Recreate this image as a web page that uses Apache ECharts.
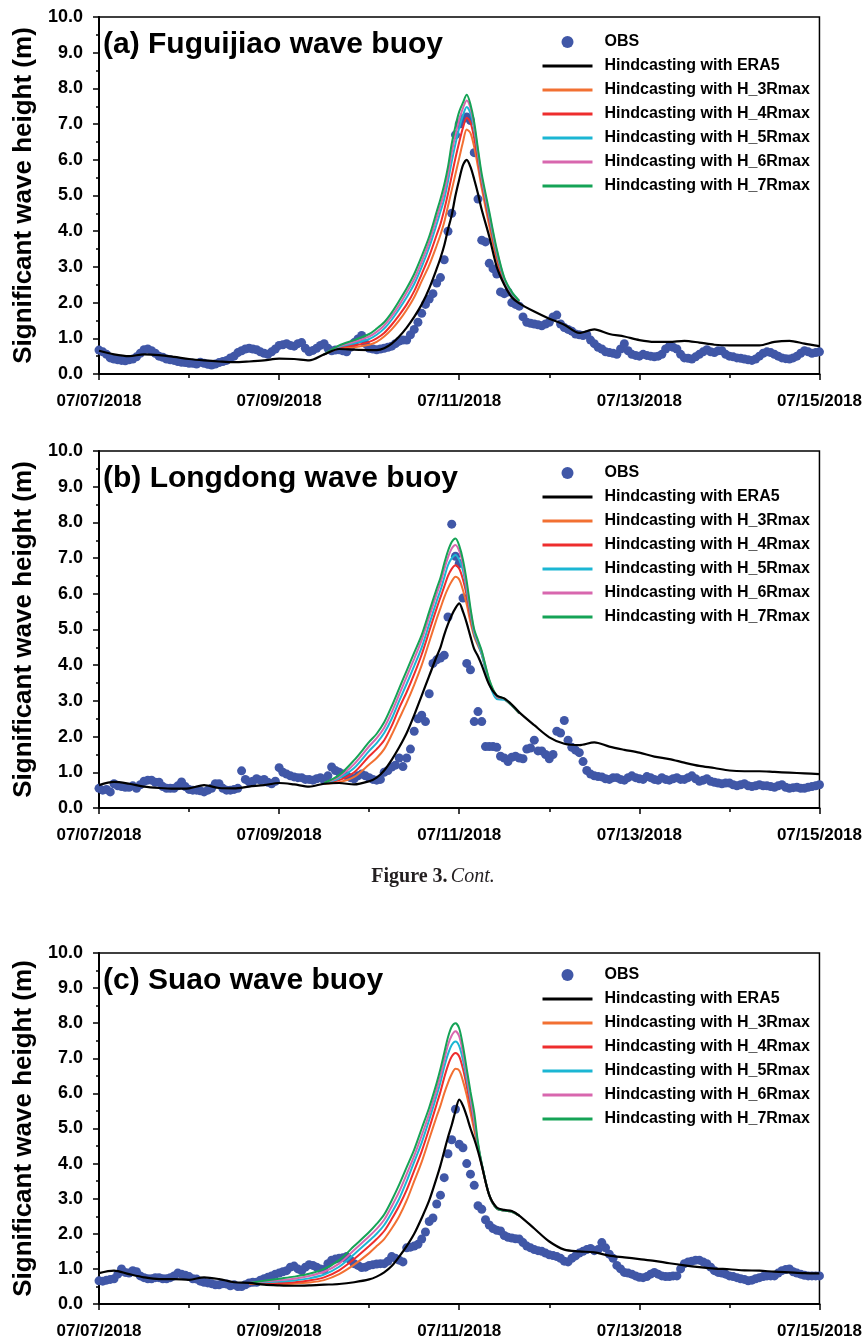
<!DOCTYPE html>
<html><head><meta charset="utf-8">
<script src="https://cdn.jsdelivr.net/npm/echarts@6/dist/echarts.min.js"></script>
<style>html,body{margin:0;padding:0;background:#fff}#c{width:865px;height:1340px}</style>
</head><body><div id="c"></div>
<script>
// ---- axis / tick labels ----
const xTickLabels = ['07/07/2018','07/09/2018','07/11/2018','07/13/2018','07/15/2018'];
const panelTitles = ['(a) Fuguijiao wave buoy','(b) Longdong wave buoy','(c) Suao wave buoy'];
const seriesNames = ['OBS','Hindcasting with ERA5','Hindcasting with H_3Rmax','Hindcasting with H_4Rmax','Hindcasting with H_5Rmax','Hindcasting with H_6Rmax','Hindcasting with H_7Rmax'];

// ---- time coordinates (hours since 07/07/2018 00:00) ----
const obsHours = Array.from({length:193}, (_, i) => i); // hourly observations
const lineHours = [0,4,8,12,16,20,24,28,32,36,40,44,48,52,56,60,64,68,72,74,76,78,80,82,84,86,88,90,
 91,92,93,94,95,96,97,98,99,100,101,102,104,106,108,110,112,116,120,124,128,132,136,140,144,148,152,156,160,164,168,172,176,180,184,188,192];
const hHoursA = [60,64,68,72,74,76,78,80,82,84,86,88,90,91,92,93,94,95,96,97,98,99,100,101,102,104,106,108,110,112];
const hHoursB = [60,64,68,72,74,76,78,80,82,84,86,88,90,91,92,93,94,95,96,97,98,99,100,101,102,104,106,108,110,112];
const hHoursC = [40,44,48,52,56,60,64,68,72,74,76,78,80,82,84,86,88,90,91,92,93,94,95,96,97,98,99,100,101,102,104,106,108,110,112];

// ---- (a) Fuguijiao ----
const obsA = [0.67,0.62,0.55,0.45,0.42,0.40,0.38,0.37,0.40,0.42,
 0.48,0.58,0.68,0.70,0.65,0.58,0.50,0.47,0.42,0.40,
 0.38,0.35,0.33,0.32,0.30,0.30,0.28,0.33,0.30,0.27,
 0.25,0.28,0.32,0.35,0.38,0.45,0.50,0.60,0.65,0.70,
 0.72,0.70,0.68,0.62,0.58,0.55,0.62,0.70,0.80,0.82,
 0.85,0.80,0.78,0.85,0.88,0.72,0.62,0.66,0.72,0.80,
 0.85,0.72,0.65,0.67,0.68,0.65,0.62,0.75,0.88,0.98,
 1.08,0.85,0.72,0.70,0.68,0.70,0.72,0.75,0.78,0.85,
 0.92,0.95,0.95,1.10,1.25,1.45,1.70,1.95,2.10,2.25,
 2.55,2.70,3.20,4.00,4.50,6.70,7.00,7.15,7.20,7.10,
 6.20,4.90,3.75,3.70,3.10,2.95,2.80,2.30,2.25,2.30,
 2.00,1.95,1.90,1.60,1.45,1.42,1.40,1.38,1.35,1.40,
 1.45,1.60,1.65,1.40,1.30,1.25,1.20,1.12,1.10,1.08,
 1.10,0.95,0.85,0.75,0.70,0.62,0.60,0.58,0.55,0.70,
 0.85,0.65,0.55,0.52,0.50,0.55,0.52,0.50,0.48,0.50,
 0.55,0.70,0.78,0.75,0.70,0.55,0.45,0.44,0.42,0.48,
 0.55,0.62,0.68,0.62,0.60,0.65,0.65,0.55,0.50,0.48,
 0.45,0.44,0.42,0.40,0.38,0.42,0.50,0.58,0.62,0.60,
 0.55,0.50,0.45,0.43,0.42,0.45,0.50,0.58,0.65,0.62,
 0.58,0.60,0.62];
const era5A = [0.65,0.55,0.50,0.55,0.53,0.48,0.42,0.38,0.35,0.33,0.35,0.38,0.43,0.42,0.38,0.55,0.70,0.68,0.67,
 0.67,0.72,0.85,1.05,1.30,1.60,1.95,2.40,2.95,
 3.25,3.60,4.05,4.45,5.00,5.45,5.85,6.00,5.80,5.45,5.05,
 4.60,3.85,3.00,2.50,2.15,1.98,
 1.75,1.55,1.38,1.15,1.25,1.12,1.05,0.95,0.90,0.90,0.93,0.88,0.82,0.80,0.80,0.80,0.90,0.93,0.85,0.78];
const h3A = [0.55,0.72,0.75,0.82,0.90,1.05,1.25,1.50,1.80,2.15,2.60,3.05,3.60,3.90,4.25,4.70,5.15,5.60,6.05,6.50,6.85,6.75,6.35,5.80,5.20,4.15,3.20,2.55,2.20,2.02];
const h4A = [0.55,0.74,0.80,0.90,1.00,1.15,1.38,1.65,1.95,2.32,2.80,3.30,3.90,4.20,4.60,5.05,5.55,6.05,6.50,6.90,7.18,7.05,6.60,6.00,5.35,4.30,3.30,2.60,2.22,2.03];
const h5A = [0.55,0.76,0.86,0.98,1.10,1.27,1.52,1.82,2.15,2.52,3.00,3.55,4.20,4.55,4.90,5.40,5.95,6.45,6.90,7.25,7.48,7.30,6.85,6.15,5.45,4.40,3.38,2.65,2.25,2.04];
const h6A = [0.55,0.78,0.90,1.05,1.18,1.36,1.62,1.93,2.28,2.66,3.15,3.70,4.38,4.72,5.10,5.60,6.20,6.70,7.12,7.45,7.66,7.45,6.95,6.22,5.50,4.48,3.45,2.68,2.28,2.05];
const h7A = [0.55,0.80,0.95,1.12,1.27,1.45,1.72,2.05,2.40,2.80,3.30,3.85,4.55,4.90,5.30,5.80,6.45,6.95,7.35,7.60,7.82,7.55,7.05,6.30,5.60,4.55,3.50,2.70,2.30,2.05];

// ---- (b) Longdong ----
const obsB = [0.55,0.50,0.52,0.45,0.68,0.62,0.60,0.58,0.58,0.62,
 0.55,0.65,0.75,0.78,0.78,0.72,0.72,0.60,0.55,0.55,
 0.55,0.62,0.73,0.60,0.52,0.50,0.50,0.48,0.45,0.50,
 0.55,0.68,0.68,0.55,0.50,0.50,0.52,0.55,1.04,0.80,
 0.73,0.75,0.82,0.78,0.80,0.72,0.68,0.75,1.13,1.00,
 0.95,0.90,0.87,0.85,0.85,0.80,0.80,0.78,0.82,0.85,
 0.78,0.90,1.15,1.05,1.00,0.95,0.90,0.85,0.82,0.90,
 0.95,0.90,0.85,0.80,0.78,0.80,1.00,1.05,1.15,1.20,
 1.40,1.16,1.40,1.65,2.15,2.50,2.60,2.42,3.20,4.05,
 4.15,4.20,4.28,5.35,7.95,7.05,6.85,5.88,4.05,3.87,
 2.42,2.70,2.42,1.72,1.72,1.72,1.70,1.45,1.40,1.30,
 1.42,1.45,1.40,1.38,1.65,1.68,1.90,1.60,1.60,1.50,
 1.38,1.50,2.15,2.10,2.45,1.90,1.70,1.62,1.55,1.30,
 1.05,0.95,0.90,0.88,0.87,0.82,0.80,0.85,0.85,0.80,
 0.78,0.85,0.90,0.85,0.82,0.80,0.88,0.85,0.80,0.78,
 0.85,0.80,0.78,0.82,0.85,0.80,0.80,0.85,0.90,0.82,
 0.75,0.78,0.82,0.75,0.72,0.70,0.68,0.70,0.70,0.65,
 0.62,0.65,0.68,0.62,0.60,0.62,0.65,0.62,0.62,0.60,
 0.58,0.62,0.65,0.58,0.55,0.57,0.58,0.55,0.55,0.58,
 0.60,0.62,0.65];
const era5B = [0.64,0.73,0.68,0.60,0.56,0.54,0.55,0.64,0.56,0.55,0.60,0.64,0.70,0.66,0.60,0.68,0.70,0.66,0.75,
 0.85,1.05,1.35,1.70,2.10,2.60,3.15,3.70,4.25,
 4.50,4.85,5.15,5.40,5.60,5.73,5.50,5.18,4.80,4.45,4.25,
 4.00,3.45,3.15,3.07,2.90,2.68,
 2.32,1.98,1.80,1.76,1.84,1.72,1.63,1.55,1.44,1.37,1.27,1.18,1.12,1.05,1.03,1.03,1.01,0.99,0.97,0.95];
const h3B = [0.68,0.72,0.87,1.22,1.40,1.65,2.05,2.50,2.95,3.45,4.00,4.65,5.30,5.60,5.90,6.15,6.35,6.48,6.40,6.10,5.70,5.20,4.80,4.55,4.30,3.55,3.12,3.05,2.87,2.65];
const h4B = [0.69,0.78,1.00,1.45,1.65,1.90,2.30,2.80,3.25,3.75,4.30,4.95,5.60,5.90,6.20,6.50,6.70,6.80,6.70,6.40,5.95,5.35,4.85,4.60,4.32,3.55,3.10,3.05,2.87,2.65];
const h5B = [0.69,0.83,1.12,1.60,1.82,2.10,2.50,3.00,3.48,3.98,4.50,5.15,5.80,6.10,6.45,6.80,7.00,7.09,6.95,6.65,6.10,5.45,4.88,4.60,4.30,3.50,3.05,3.03,2.87,2.65];
const h6B = [0.70,0.88,1.23,1.73,1.96,2.25,2.68,3.18,3.68,4.18,4.70,5.35,6.00,6.30,6.68,7.02,7.27,7.37,7.20,6.82,6.22,5.52,4.95,4.65,4.38,3.58,3.12,3.06,2.88,2.66];
const h7B = [0.70,0.92,1.34,1.85,2.08,2.40,2.85,3.35,3.85,4.35,4.85,5.50,6.15,6.45,6.85,7.20,7.45,7.55,7.35,6.95,6.35,5.60,5.00,4.70,4.40,3.60,3.15,3.06,2.88,2.66];

// ---- (c) Suao ----
const obsC = [0.66,0.65,0.68,0.70,0.72,0.85,1.00,0.90,0.88,0.95,
 0.92,0.80,0.75,0.72,0.72,0.75,0.75,0.72,0.72,0.75,
 0.80,0.88,0.85,0.82,0.78,0.72,0.71,0.65,0.62,0.60,
 0.58,0.55,0.55,0.58,0.57,0.52,0.55,0.50,0.50,0.55,
 0.60,0.62,0.62,0.68,0.72,0.76,0.80,0.85,0.88,0.92,
 0.95,1.05,1.08,1.00,0.95,1.05,1.12,1.10,1.05,1.00,
 0.98,1.15,1.25,1.28,1.30,1.32,1.35,1.25,1.15,1.10,
 1.04,1.05,1.10,1.12,1.14,1.15,1.15,1.22,1.35,1.30,
 1.25,1.20,1.60,1.62,1.65,1.70,1.85,2.05,2.35,2.45,
 2.85,3.10,3.60,4.28,4.68,5.55,4.55,4.45,4.00,3.70,
 3.38,2.80,2.70,2.40,2.25,2.15,2.10,2.08,1.95,1.90,
 1.88,1.86,1.85,1.75,1.65,1.60,1.55,1.52,1.50,1.45,
 1.40,1.38,1.35,1.30,1.22,1.20,1.30,1.37,1.45,1.50,
 1.55,1.58,1.52,1.55,1.75,1.60,1.42,1.30,1.10,1.00,
 0.90,0.88,0.85,0.80,0.76,0.75,0.78,0.85,0.90,0.85,
 0.80,0.78,0.78,0.80,0.80,1.00,1.15,1.20,1.22,1.25,
 1.25,1.20,1.15,1.05,0.95,0.90,0.88,0.85,0.80,0.78,
 0.75,0.72,0.70,0.66,0.68,0.72,0.75,0.78,0.80,0.80,
 0.80,0.88,0.95,0.98,1.00,0.92,0.88,0.85,0.82,0.80,
 0.80,0.80,0.80];
const era5C = [0.88,0.95,0.85,0.76,0.71,0.71,0.69,0.76,0.71,0.62,0.60,0.55,0.53,0.52,0.53,0.55,0.57,0.62,0.70,
 0.78,0.90,1.08,1.35,1.65,2.00,2.45,2.95,3.60,
 3.95,4.35,4.75,5.10,5.50,5.82,5.65,5.35,5.00,4.70,4.35,
 3.95,3.10,2.75,2.68,2.65,2.52,
 2.15,1.78,1.55,1.50,1.47,1.38,1.33,1.28,1.23,1.16,1.10,1.05,1.01,0.99,0.96,0.95,0.92,0.90,0.88,0.87];
const h3C = [0.58,0.57,0.57,0.58,0.61,0.68,0.85,1.12,1.45,1.65,1.85,2.15,2.50,2.95,3.50,4.05,4.70,5.35,5.65,6.00,6.30,6.55,6.70,6.65,6.35,5.95,5.45,4.95,4.45,3.95,3.10,2.72,2.66,2.63,2.52];
const h4C = [0.59,0.59,0.60,0.62,0.67,0.76,0.96,1.28,1.65,1.85,2.08,2.42,2.80,3.25,3.80,4.35,5.00,5.70,6.05,6.45,6.80,7.05,7.15,7.05,6.70,6.20,5.65,5.10,4.50,3.97,3.10,2.72,2.66,2.63,2.52];
const h5C = [0.60,0.62,0.64,0.67,0.73,0.84,1.06,1.42,1.80,2.00,2.25,2.60,3.00,3.50,4.05,4.60,5.25,5.95,6.32,6.75,7.12,7.38,7.48,7.35,6.95,6.40,5.80,5.20,4.52,3.98,3.10,2.72,2.66,2.63,2.52];
const h6C = [0.60,0.64,0.68,0.72,0.80,0.92,1.15,1.54,1.93,2.14,2.40,2.78,3.20,3.70,4.22,4.80,5.42,6.12,6.50,6.95,7.38,7.65,7.77,7.62,7.15,6.55,5.90,5.25,4.55,3.99,3.10,2.72,2.66,2.63,2.52];
const h7C = [0.60,0.66,0.72,0.78,0.86,1.00,1.25,1.65,2.05,2.28,2.55,2.95,3.40,3.90,4.40,5.00,5.60,6.30,6.70,7.15,7.60,7.90,8.00,7.85,7.35,6.70,6.05,5.45,4.60,4.00,3.10,2.72,2.66,2.63,2.52];

// ---- styling ----
const FONT = 'Arial, "Liberation Sans", Helvetica, sans-serif';
const COLORS = {obs:'#4057A7', era:'#000000', h:['#F27032','#EE2D2D','#1BB6D3','#D867AE','#15A356']};
const panels = [
  {top:17,  height:357, obs:obsA, era:era5A, hHours:hHoursA, h:[h3A,h4A,h5A,h6A,h7A]},
  {top:451, height:357, obs:obsB, era:era5B, hHours:hHoursB, h:[h3B,h4B,h5B,h6B,h7B]},
  {top:953, height:352, obs:obsC, era:era5C, hHours:hHoursC, h:[h3C,h4C,h5C,h6C,h7C]}
];
const legendTopOffset = [16, 13, 13];
const zip = (xs, ys) => xs.map((x, i) => [x, ys[i]]);
const hidden = {color:'rgba(0,0,0,0)', borderWidth:0, borderColor:'rgba(0,0,0,0)'};

const grids = [], xAxes = [], yAxes = [], series = [], legends = [], graphics = [];
panels.forEach((p, k) => {
  grids.push({left:99, top:p.top, width:721, height:p.height, show:true, borderColor:'#000', borderWidth:1.5, backgroundColor:'transparent'});
  xAxes.push({type:'value', gridIndex:k, min:0, max:192, interval:48,
    axisLine:{show:true, onZero:false, lineStyle:{color:'#000', width:2}},
    axisTick:{show:true, inside:false, length:6, lineStyle:{color:'#000', width:1.5}},
    minorTick:{show:true, splitNumber:2, length:4, lineStyle:{color:'#000', width:1.5}},
    splitLine:{show:false},
    axisLabel:{margin:19, color:'#000', fontFamily:FONT, fontWeight:'bold', fontSize:17,
      formatter: v => xTickLabels[Math.round(v/48)] || ''}});
  yAxes.push({type:'value', gridIndex:k, min:0, max:10, interval:1,
    name:'Significant wave height (m)', nameLocation:'middle', nameGap:62,
    nameTextStyle:{color:'#000', fontFamily:FONT, fontWeight:'bold', fontSize:26},
    axisLine:{show:true, onZero:false, lineStyle:{color:'#000', width:2}},
    axisTick:{show:true, inside:false, length:6, lineStyle:{color:'#000', width:1.5}},
    minorTick:{show:true, splitNumber:2, length:3, lineStyle:{color:'#000', width:1.5}},
    splitLine:{show:false},
    axisLabel:{margin:16, color:'#000', fontFamily:FONT, fontWeight:'bold', fontSize:18,
      formatter: v => v.toFixed(1)}});
  series.push({name:seriesNames[0], type:'scatter', xAxisIndex:k, yAxisIndex:k, symbol:'circle', symbolSize:9,
    itemStyle:{color:COLORS.obs, opacity:1}, z:2, data:zip(obsHours, p.obs)});
  p.h.forEach((arr, j) => {
    series.push({name:seriesNames[2+j], type:'line', xAxisIndex:k, yAxisIndex:k, showSymbol:false, symbol:'none',
      smooth:0.3, lineStyle:{color:COLORS.h[j], width:2}, itemStyle:{color:COLORS.h[j]}, z:3+j, data:zip(p.hHours, arr)});
  });
  series.push({name:seriesNames[1], type:'line', xAxisIndex:k, yAxisIndex:k, showSymbol:false, symbol:'none',
    smooth:0.3, lineStyle:{color:COLORS.era, width:2.2}, itemStyle:{color:COLORS.era}, z:9, data:zip(lineHours, p.era)});
  legends.push({orient:'vertical', left:541, top:p.top + legendTopOffset[k], padding:0, itemGap:6,
    itemWidth:50, itemHeight:12, selectedMode:false,
    data:seriesNames.map((n, i) => i === 0 ? {name:n, icon:'circle'} : {name:n, itemStyle:hidden}),
    lineStyle:{width:3},
    textStyle:{color:'#000', fontFamily:FONT, fontWeight:'bold', fontSize:16, lineHeight:18, padding:[0,0,0,7]}});
  graphics.push({type:'text', left:103, top:p.top + 13,
    style:{text:panelTitles[k], fill:'#000', font:'bold 30px ' + FONT}});
});
graphics.push({type:'text', x:433, y:877,
  style:{text:'{b|Figure 3.} {i|Cont.}', align:'center', verticalAlign:'middle',
    rich:{b:{fontFamily:'"Liberation Serif","DejaVu Serif",serif', fontWeight:'bold', fontSize:20, fill:'#231F20'},
          i:{fontFamily:'"Liberation Serif","DejaVu Serif",serif', fontStyle:'italic', fontSize:20, fill:'#231F20'}}}});

const chart = echarts.init(document.getElementById('c'), null, {renderer:'canvas'});
chart.setOption({animation:false, backgroundColor:'#fff', grid:grids, xAxis:xAxes, yAxis:yAxes,
  series:series, legend:legends, graphic:graphics});
</script></body></html>
